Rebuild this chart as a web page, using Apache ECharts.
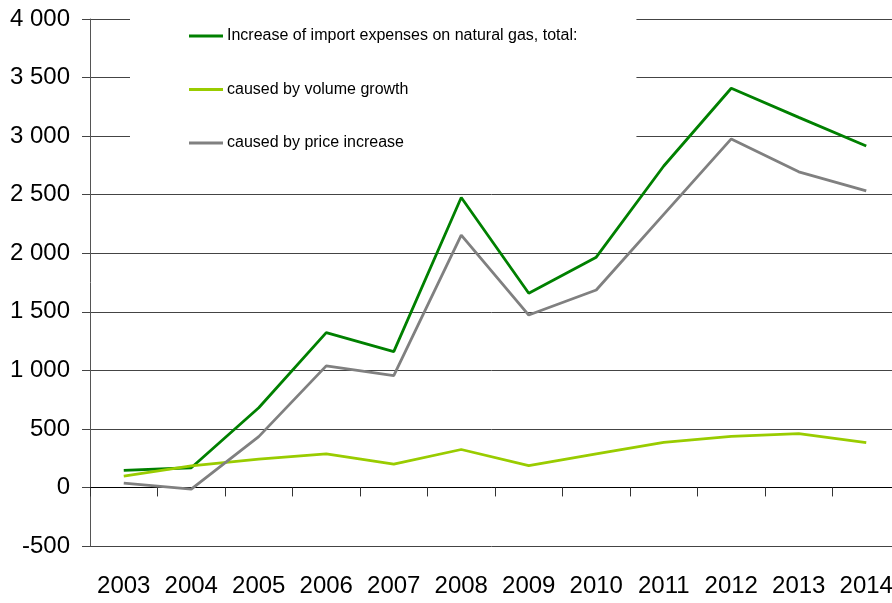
<!DOCTYPE html>
<html>
<head>
<meta charset="utf-8">
<style>
  html, body { margin: 0; padding: 0; background: #ffffff; }
  #chart { width: 892px; height: 603px; }
</style>
<script src="https://cdn.jsdelivr.net/npm/echarts@6/dist/echarts.min.js"></script>
</head>
<body>
<div id="chart"></div>
<script>
// Years on the horizontal axis
const years = ['2003', '2004', '2005', '2006', '2007', '2008', '2009', '2010', '2011', '2012', '2013', '2014'];

// Increase of import expenses on natural gas and its two components
const totalIncrease = [145, 168, 680, 1322, 1160, 2476, 1658, 1966, 2745, 3409, 3160, 2915];
const volumeGrowth = [96, 184, 241, 287, 200, 324, 186, 287, 385, 436, 459, 382];
const priceIncrease = [37, -15, 434, 1038, 954, 2154, 1472, 1686, 2332, 2976, 2695, 2532];

// Series names shown in the legend
const seriesNames = [
  'Increase of import expenses on natural gas, total:',
  'caused by volume growth',
  'caused by price increase'
];

// Value axis range
const yMin = -500;
const yMax = 4000;
const yStep = 500;

const FONT = '"Liberation Sans", Arial, sans-serif';

function formatThousands(v) {
  const s = String(Math.abs(v)).replace(/\B(?=(\d{3})+(?!\d))/g, ' ');
  return (v < 0 ? '-' : '') + s;
}

const chart = echarts.init(document.getElementById('chart'), null, { renderer: 'canvas' });

chart.setOption({
  animation: false,
  backgroundColor: '#ffffff',
  textStyle: { fontFamily: FONT },
  grid: {
    left: 90,
    right: -8,
    top: 19,
    bottom: 57,
    outerBoundsMode: 'none'
  },
  legend: {
    orient: 'vertical',
    left: 130,
    top: 0,
    padding: [28, 59, 24, 59],
    backgroundColor: '#ffffff',
    itemGap: 37.5,
    itemWidth: 34,
    itemHeight: 3,
    icon: 'rect',
    textStyle: { fontFamily: FONT, fontSize: 16, color: '#000000', padding: [0, 0, 0, -1] },
    data: seriesNames
  },
  xAxis: [
    {
      // zero line with category separators
      type: 'category',
      data: years,
      boundaryGap: true,
      axisLine: { onZero: true, lineStyle: { color: '#000000', width: 1 } },
      axisTick: { show: true, interval: 0, length: 9, inside: false, lineStyle: { color: '#333333' } },
      axisLabel: { show: false },
      splitLine: { show: false }
    },
    {
      // year labels along the bottom edge
      type: 'category',
      data: years,
      position: 'bottom',
      boundaryGap: true,
      axisLine: { show: false, onZero: false },
      axisTick: { show: false },
      axisLabel: {
        show: true,
        interval: 0,
        hideOverlap: false,
        margin: 28,
        fontFamily: FONT,
        fontSize: 24,
        color: '#000000'
      },
      splitLine: { show: false }
    }
  ],
  yAxis: {
    type: 'value',
    min: yMin,
    max: yMax,
    interval: yStep,
    axisLine: { show: true, lineStyle: { color: '#555555', width: 1 } },
    axisTick: { show: true, length: 8, lineStyle: { color: '#444444' } },
    axisLabel: {
      margin: 20,
      fontFamily: FONT,
      fontSize: 24,
      color: '#000000',
      formatter: formatThousands
    },
    splitLine: { show: true, lineStyle: { color: '#444444', width: 1 } }
  },
  series: [
    {
      name: seriesNames[0],
      type: 'line',
      data: totalIncrease,
      symbol: 'none',
      lineStyle: { color: '#008000', width: 2.8 },
      itemStyle: { color: '#008000' }
    },
    {
      name: seriesNames[1],
      type: 'line',
      data: volumeGrowth,
      symbol: 'none',
      lineStyle: { color: '#99cc00', width: 2.8 },
      itemStyle: { color: '#99cc00' }
    },
    {
      name: seriesNames[2],
      type: 'line',
      data: priceIncrease,
      symbol: 'none',
      lineStyle: { color: '#808080', width: 2.8 },
      itemStyle: { color: '#808080' }
    }
  ]
});
</script>
</body>
</html>
